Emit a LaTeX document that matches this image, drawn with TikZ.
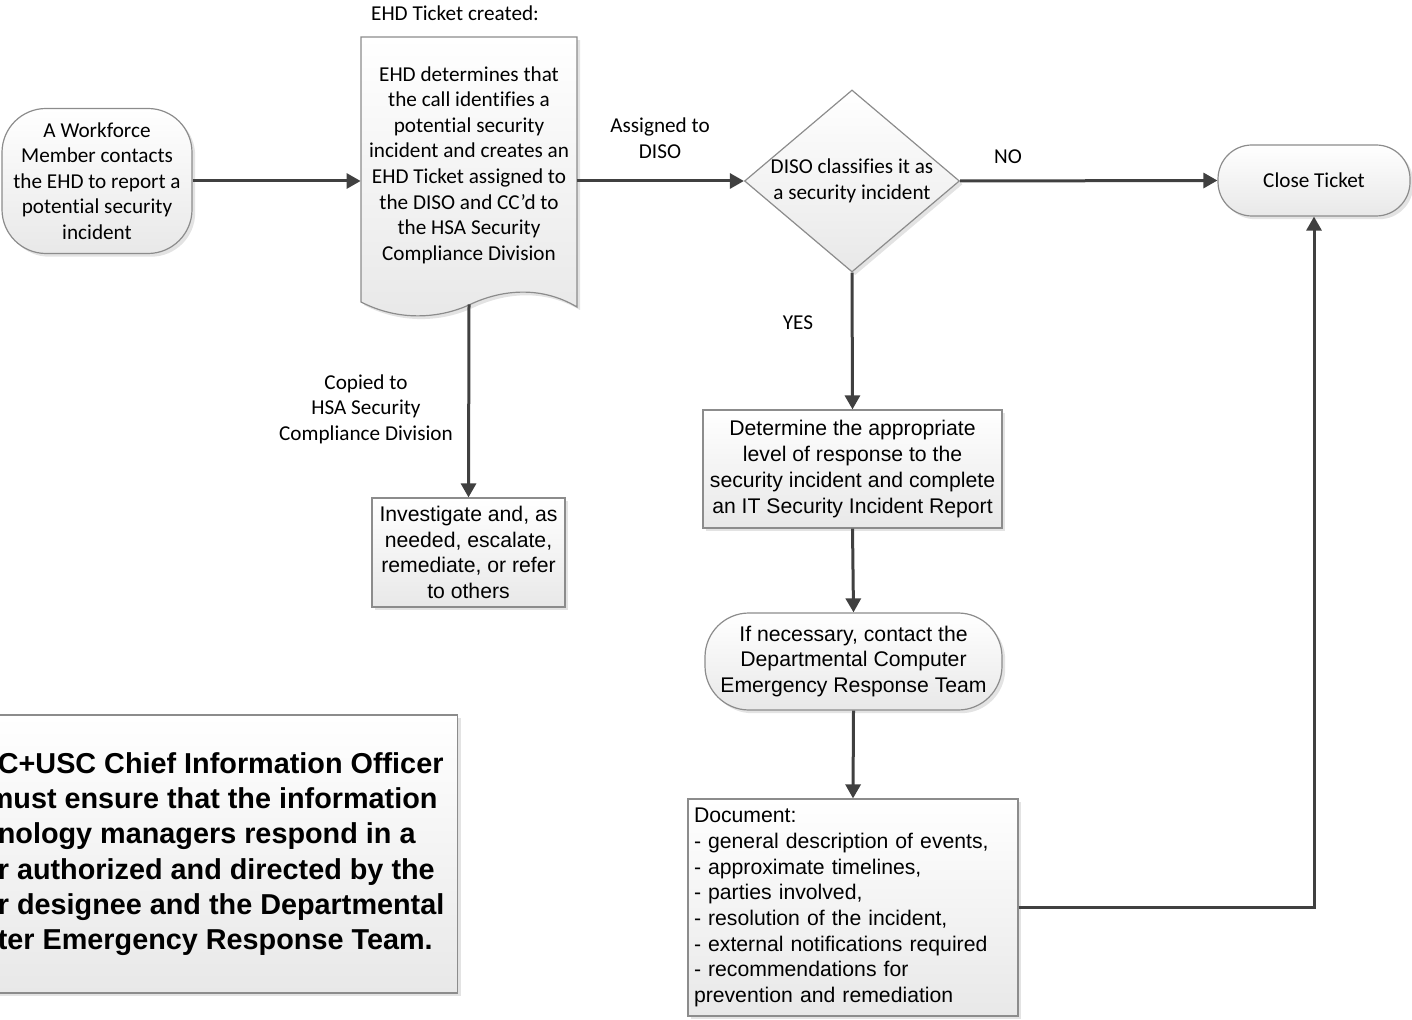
\documentclass[tikz,border=0pt]{standalone}
\usepackage{fontspec}
\setmainfont{Carlito}[Ligatures=NoCommon]
\newfontfamily\arialfont{Liberation Sans}
\usetikzlibrary{shapes.geometric,arrows.meta,shadows}

\definecolor{flowline}{HTML}{404040}
\definecolor{boxline}{HTML}{8C8C8C}

\tikzset{
  box/.style={draw=boxline, line width=0.6pt, top color=white, bottom color=black!9,
    drop shadow={shadow xshift=1.6pt, shadow yshift=-1.6pt, fill=black!22}},
  term/.style={box, rounded corners=22pt, align=center, inner sep=0pt},
  proc/.style={box, align=center, inner sep=0pt},
  ctext/.style={font=\fontsize{10.6}{12.8}\selectfont},
  atext/.style={font=\arialfont\fontsize{10.6}{12.85}\selectfont},
  lbl/.style={ctext, align=center, inner sep=0pt},
  flow/.style={draw=flowline, line width=1.5pt, -{Triangle[length=7pt,width=7.5pt]}}
}

\begin{document}
\begin{tikzpicture}[x=0.5pt, y=-0.5pt]
        \useasboundingbox (0,0) rectangle (1412,1020);

        % ---call and ticket
        \node[term, ctext, minimum width=95pt, minimum height=72.5pt] (caller) at (97,181)
            {A Workforce\\Member contacts\\the EHD to report a\\potential security\\incident};

        \path[box] (361,37) -- (577,37) -- (577,307)
            .. controls (540,285) and (500,290) .. (469,305)
            .. controls (440,318) and (400,322) .. (361,302) -- cycle;
        \node[ctext, align=center, inner sep=0pt, minimum width=108pt, minimum height=139pt] (ticket) at (469,165)
            {EHD determines that\\the call identifies a\\potential security\\incident and creates an\\EHD Ticket assigned to\\the DISO and CC’d to\\the HSA Security\\Compliance Division};
        \node[lbl] (ticketlbl) at (455,13) {EHD Ticket created:};

        % ---DISO decision
        \node[box, ctext, shape=diamond, aspect=1.18, inner sep=0pt, align=center,
            minimum width=107.5pt, minimum height=91pt] (diso) at (852,181)
            {DISO classifies it as\\a security incident};
        \node[term, ctext, rounded corners=17pt, minimum width=96pt, minimum height=35.5pt] (close) at (1314,180.5)
            {Close Ticket};

        % ---DISO response
        \node[proc, atext, minimum width=149.5pt, minimum height=59pt] (respond) at (852.5,469)
            {Determine the appropriate\\level of response to the\\security incident and complete\\an IT Security Incident Report};
        \node[term, atext, minimum width=148.5pt, minimum height=48.5pt] (cert) at (853.5,661.5)
            {If necessary, contact the\\Departmental Computer\\Emergency Response Team};
        \node[box, atext, align=left, text width=159pt, inner xsep=3pt, inner ysep=0pt, minimum height=108.5pt] (record) at (853,907.5)
            {Document:\\- general description of events,\\- approximate timelines,\\- parties involved,\\- resolution of the incident,\\- external notifications required\\- recommendations for\\prevention and remediation};

        % ---HSA Security Compliance Division
        \node[proc, atext, minimum width=96.5pt, minimum height=54.5pt] (investigate) at (468.5,552.5)
            {Investigate and, as\\needed, escalate,\\remediate, or refer\\to others};

        % ---connectors
        \draw[flow] (caller.east) -- (caller.east -| ticket.west);
        \draw[flow] (ticket.east |- diso.west) -- (diso.west);
        \draw[flow] (diso.east) -- (close.west);
        \draw[flow] (diso.south) -- (respond.north);
        \draw[flow] (respond.south) -- (cert.north);
        \draw[flow] (cert.south) -- (record.north);
        \draw[flow] (record.east) -| (close.south);
        \draw[flow] (ticket.south) -- (investigate.north);

        \node[lbl] (assignlbl) at (660,138) {Assigned to\\DISO};
        \node[lbl] (nolbl) at (1008,157) {NO};
        \node[lbl] (yeslbl) at (798,323) {YES};
        \node[lbl] (copylbl) at (366,409) {Copied to\\HSA Security\\Compliance Division};

        % ---CIO note, cut at the left edge
        \begin{scope}
            \clip (0,0) rectangle (1412,1020);
            \node[box, anchor=west, align=left, inner sep=0pt, minimum width=236.5pt, minimum height=139pt,
                font=\arialfont\bfseries\fontsize{14.4}{17.65}\selectfont] (cionote) at (-16,854)
                {C+USC Chief Information Officer\\\hspace*{-5pt}must ensure that the information\\nology managers respond in a\\r authorized and directed by the\\r designee and the Departmental\\ter Emergency Response Team.};
        \end{scope}
\end{tikzpicture}
\end{document}
